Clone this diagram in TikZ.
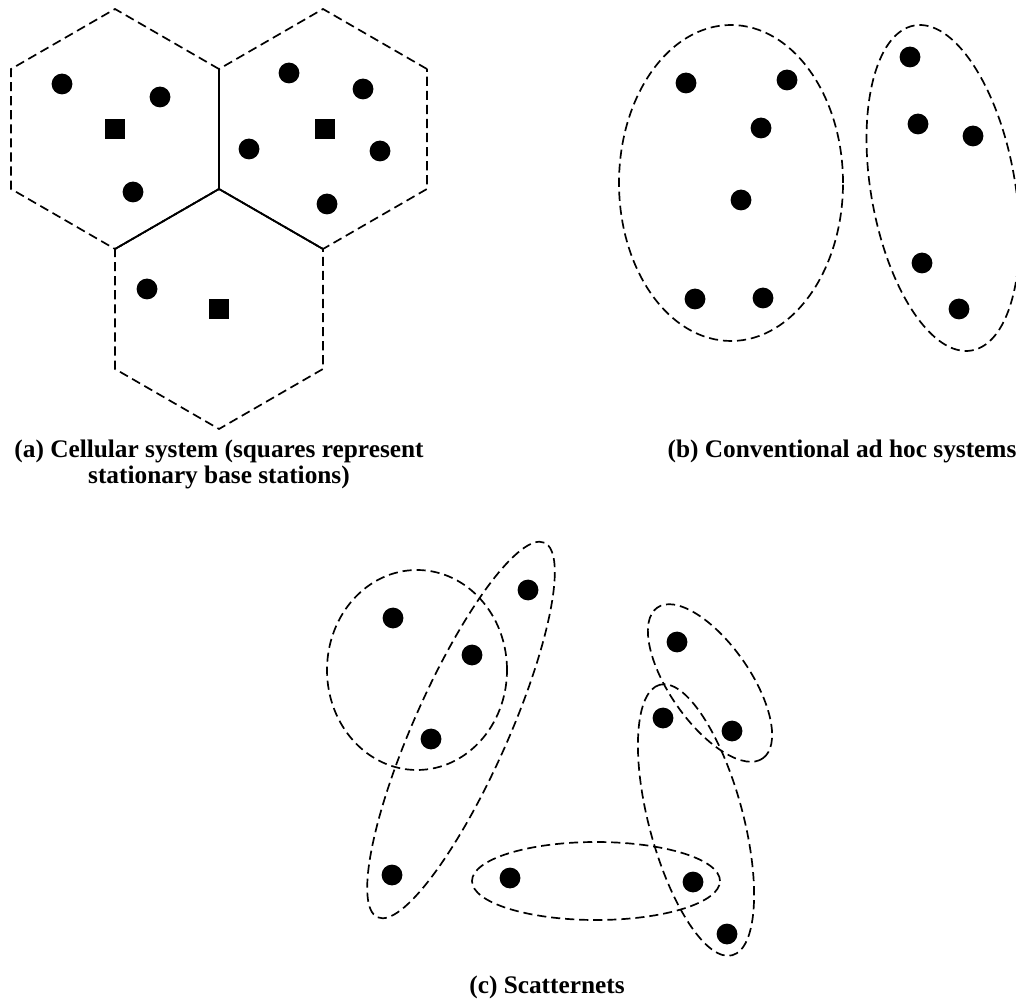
\documentclass[tikz,border=0pt]{standalone}
\usepackage{fontspec}
\setmainfont{Liberation Serif}
\tikzset{
  station/.style={circle,fill=black,inner sep=0pt,minimum size=0.52cm},
  basestation/.style={rectangle,fill=black,inner sep=0pt,minimum size=0.5cm},
  cell/.style={line width=1.2pt,dash pattern=on 6.5pt off 3.5pt},
  border/.style={line width=1.2pt},
  group/.style={line width=1.2pt,dash pattern=on 6.5pt off 3.5pt},
  caption/.style={inner sep=0pt,align=center,font=\fontsize{18}{18}\selectfont\bfseries}
}
\begin{document}
\begin{tikzpicture}[x=0.025cm,y=0.025cm]
    \useasboundingbox (0,0) rectangle (1016,1000);
    \clip (0,0) rectangle (1016,1000);
    % (a) cells
    \foreach \c in {(115,871),(323,871),(219,691)}
      \draw[cell,shift={\c}] (30:120) -- (90:120) -- (150:120) -- (210:120) -- (270:120) -- (330:120) -- cycle;
    \coordinate (hub) at (219,811);
    \draw[border] (hub) -- ++(90:120);
    \draw[border] (hub) -- ++(210:120);
    \draw[border] (hub) -- ++(330:120);
    \foreach \p [count=\i] in {(62,916),(160,903),(133,808),(289,927),(363,911),(249,851),(380,849),(327,796),(147,711)}
      \node[station] (a\i) at \p {};
    \node[basestation] (bsA) at (115,871) {};
    \node[basestation] (bsB) at (325,871) {};
    \node[basestation] (bsC) at (219,691) {};
    \node[caption,anchor=north] (capA) at (219,560) {(a) Cellular system (squares represent\\stationary base stations)};
    % (b) ad hoc
    \draw[group] (731,817) ellipse (112 and 158);
    \draw[group,rotate around={100:(943,812)}] (943,812) ellipse (165 and 72);
    \foreach \p [count=\i] in {(686,917),(787,920),(761,872),(741,800),(695,701),(763,702),(910,943),(918,876),(973,864),(922,737),(959,691)}
      \node[station] (b\i) at \p {};
    \node[caption,anchor=north] (capB) at (842,560) {(b) Conventional ad hoc systems};
    % (c) scatternets
    \draw[group] (417,330) ellipse (90 and 100);
    \draw[group,rotate around={66:(461,270)}] (461,270) ellipse (205 and 47);
    \draw[group,rotate around={-55:(710,317)}] (710,317) ellipse (92 and 40);
    \draw[group,rotate around={105:(696,180)}] (696,180) ellipse (140 and 47);
    \draw[group] (596,119) ellipse (124 and 39);
    \foreach \p [count=\i] in {(393,382),(472,345),(431,261),(528,410),(392,125),(510,122),(677,358),(663,282),(732,269),(693,118),(727,66)}
      \node[station] (c\i) at \p {};
    \node[caption,anchor=south] (capC) at (547,1) {(c) Scatternets};
\end{tikzpicture}
\end{document}
